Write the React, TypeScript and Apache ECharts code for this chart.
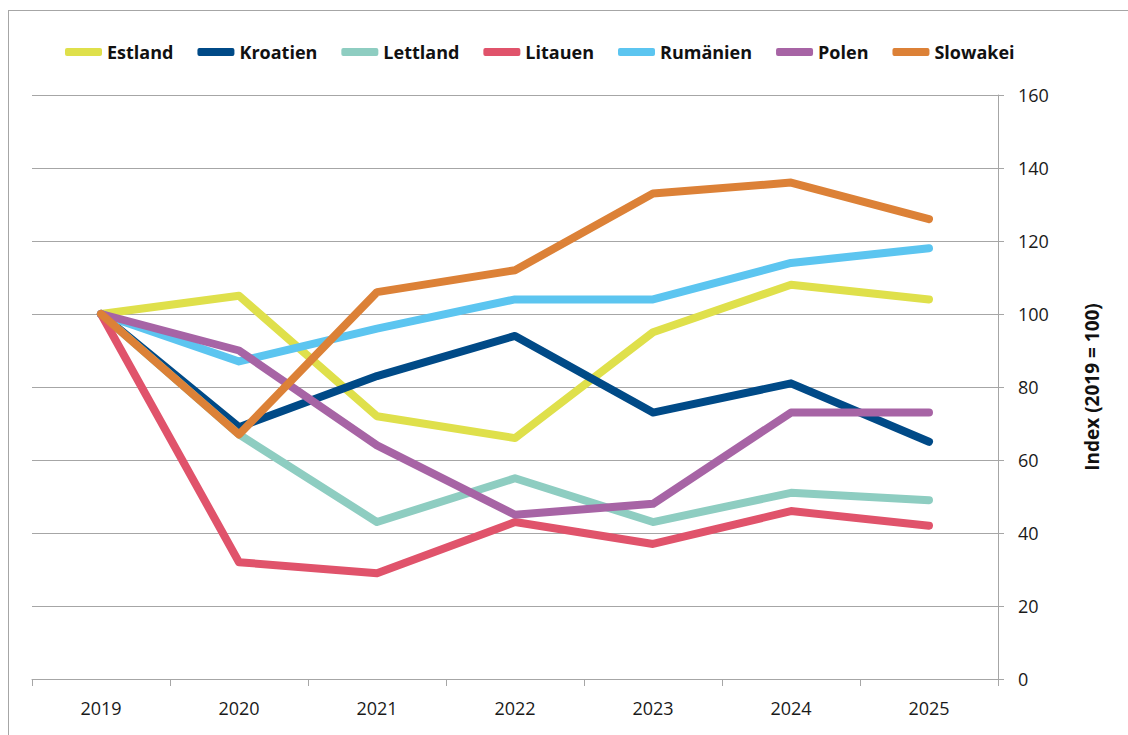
import React, { useEffect, useRef } from "react";
import * as echarts from "echarts";

const years = ["2019", "2020", "2021", "2022", "2023", "2024", "2025"];
const seriesNames = ["Estland", "Kroatien", "Lettland", "Litauen", "Rumänien", "Polen", "Slowakei"];
const colors = ["#dfe04b", "#004a87", "#8ecdc1", "#e0536b", "#5cc5f0", "#a764a5", "#dc8137"];
const estland = [100, 105, 72, 66, 95, 108, 104];
const kroatien = [100, 69, 83, 94, 73, 81, 65];
const lettland = [100, 67, 43, 55, 43, 51, 49];
const litauen = [100, 32, 29, 43, 37, 46, 42];
const rumaenien = [100, 87, 96, 104, 104, 114, 118];
const polen = [100, 90, 64, 45, 48, 73, 73];
const slowakei = [100, 67, 106, 112, 133, 136, 126];
const seriesValues = [estland, kroatien, lettland, litauen, rumaenien, polen, slowakei];
const yAxisName = "Index (2019 = 100)";

export default function App() {
  const ref = useRef<HTMLDivElement>(null);
  useEffect(() => {
    if (!ref.current) return;
    const chart = echarts.init(ref.current, undefined, { renderer: "svg" });
    const font = "'Open Sans', 'Noto Sans', sans-serif";
    const gray = "#a6a6a6";
    chart.setOption({
      animation: false,
      textStyle: { fontFamily: font },
      color: colors,
      graphic: [
        { type: "line", shape: { x1: 8, y1: 10.5, x2: 1128, y2: 10.5 }, style: { stroke: gray, lineWidth: 1 } },
        { type: "line", shape: { x1: 8.5, y1: 10, x2: 8.5, y2: 735 }, style: { stroke: gray, lineWidth: 1 } },
      ],
      legend: {
        left: 60,
        top: 38,
        itemWidth: 37,
        itemHeight: 8,
        itemGap: 24,
        symbolKeepAspect: false,
        icon: "roundRect",
        itemStyle: { borderRadius: 4 },
        textStyle: { fontFamily: font, fontSize: 18, fontWeight: "bold", color: "#111" },
        data: seriesNames,
      },
      grid: { left: 32, right: 130, top: 95, bottom: 56 },
      xAxis: {
        type: "category",
        data: years,
        boundaryGap: true,
        axisLine: { show: true, lineStyle: { color: gray, width: 1 } },
        axisTick: { show: true, length: 7, lineStyle: { color: gray } },
        axisLabel: { margin: 20, fontSize: 18, color: "#1a1a1a", fontFamily: font },
        splitLine: { show: false },
      },
      yAxis: {
        type: "value",
        position: "right",
        min: 0,
        max: 160,
        interval: 20,
        name: yAxisName,
        nameLocation: "middle",
        nameRotate: 90,
        nameGap: 84,
        nameTextStyle: { fontSize: 19, fontWeight: "bold", color: "#111", fontFamily: font },
        axisLine: { show: true, lineStyle: { color: gray, width: 1 } },
        axisTick: { show: true, length: 6, lineStyle: { color: gray } },
        axisLabel: { margin: 20, fontSize: 18, color: "#1a1a1a", fontFamily: font },
        splitLine: { show: true, lineStyle: { color: gray, width: 1 } },
      },
      series: seriesNames.map((name, i) => ({
        name,
        type: "line",
        data: seriesValues[i],
        symbol: "none",
        lineStyle: { width: 8, color: colors[i], cap: "round", join: "round" },
        itemStyle: { color: colors[i] },
      })),
    });
    return () => chart.dispose();
  }, []);
  return (
    <div
      ref={ref}
      style={{ position: "fixed", left: 0, top: 0, width: 1128, height: 735, background: "#fff" }}
    />
  );
}
